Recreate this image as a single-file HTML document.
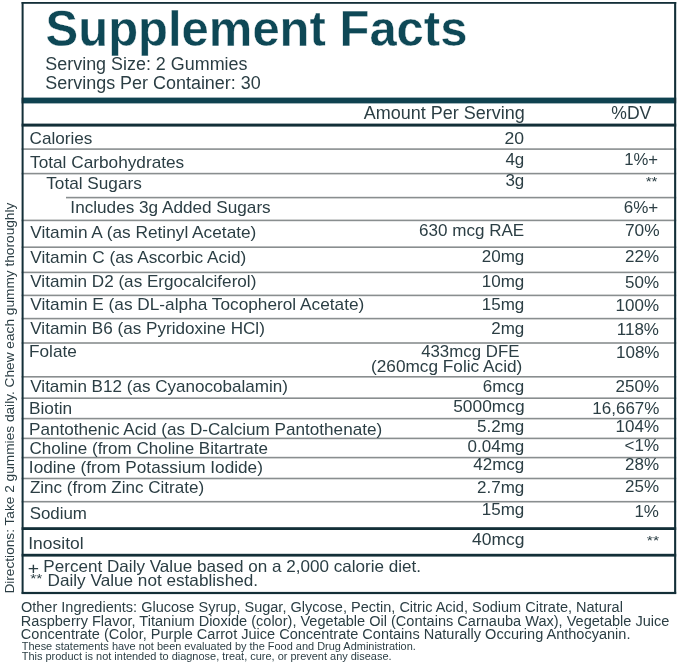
<!DOCTYPE html>
<html><head><meta charset="utf-8"><style>
html,body{margin:0;padding:0;background:#ffffff;}
svg{display:block;font-family:"Liberation Sans",sans-serif;will-change:transform;}
</style></head><body>
<svg width="679" height="667" viewBox="0 0 679 667">
<rect width="679" height="667" fill="#ffffff"/>
<rect x="21.6" y="97.6" width="654.6" height="5.8" fill="#0f4250"/>
<rect x="21.6" y="123.6" width="654.6" height="3" fill="#132f38"/>
<rect x="21.6" y="148.3" width="654.6" height="1.6" fill="#898e8f"/>
<rect x="21.6" y="172.8" width="654.6" height="1.6" fill="#898e8f"/>
<rect x="21.6" y="219.6" width="654.6" height="1.6" fill="#898e8f"/>
<rect x="21.6" y="246.4" width="654.6" height="1.6" fill="#898e8f"/>
<rect x="21.6" y="271.6" width="654.6" height="1.6" fill="#898e8f"/>
<rect x="21.6" y="294.6" width="654.6" height="1.6" fill="#898e8f"/>
<rect x="21.6" y="317.8" width="654.6" height="1.6" fill="#898e8f"/>
<rect x="21.6" y="342.2" width="654.6" height="1.6" fill="#898e8f"/>
<rect x="21.6" y="376" width="654.6" height="1.6" fill="#898e8f"/>
<rect x="21.6" y="397.4" width="654.6" height="1.6" fill="#898e8f"/>
<rect x="21.6" y="417.8" width="654.6" height="1.6" fill="#898e8f"/>
<rect x="21.6" y="437.6" width="654.6" height="1.6" fill="#898e8f"/>
<rect x="21.6" y="456.8" width="654.6" height="1.6" fill="#898e8f"/>
<rect x="21.6" y="477.7" width="654.6" height="1.6" fill="#898e8f"/>
<rect x="21.6" y="500.9" width="654.6" height="1.6" fill="#898e8f"/>
<rect x="66" y="196.8" width="610.2" height="1.6" fill="#898e8f"/>
<rect x="21.6" y="527.2" width="654.6" height="2.8" fill="#132f38"/>
<rect x="21.6" y="553.8" width="654.6" height="2.8" fill="#132f38"/>
<rect x="21.6" y="2" width="654.6" height="1.8" fill="#132f38"/>
<rect x="21.6" y="2" width="2" height="591.8" fill="#132f38"/>
<rect x="674.1" y="2" width="2.1" height="591.8" fill="#132f38"/>
<rect x="21.6" y="591.9" width="654.6" height="2.2" fill="#132f38"/>
<text x="45.55" y="45.6" font-size="50.5" font-weight="bold" stroke="#ffffff" stroke-width="0.4" fill="#0e4856" textLength="421.87" lengthAdjust="spacingAndGlyphs">Supplement Facts</text>
<text x="45.33" y="69.6" font-size="18" fill="#2b3e44" textLength="202.15" lengthAdjust="spacingAndGlyphs">Serving Size: 2 Gummies</text>
<text x="45.33" y="89.2" font-size="18" fill="#2b3e44" textLength="215.4" lengthAdjust="spacingAndGlyphs">Servings Per Container: 30</text>
<text x="363.8" y="118.5" font-size="17.5" fill="#2b3e44" textLength="161.03" lengthAdjust="spacingAndGlyphs">Amount Per Serving</text>
<text x="611.27" y="118.7" font-size="17.5" fill="#2b3e44" textLength="40.02" lengthAdjust="spacingAndGlyphs">%DV</text>
<text x="29.52" y="144.2" font-size="17" fill="#2b3e44" textLength="62.9" lengthAdjust="spacingAndGlyphs">Calories</text>
<text x="524.18" y="144.3" font-size="17" fill="#2b3e44" textLength="19.59" lengthAdjust="spacingAndGlyphs" text-anchor="end">20</text>
<text x="30.02" y="168.3" font-size="17" fill="#2b3e44" textLength="154.23" lengthAdjust="spacingAndGlyphs">Total Carbohydrates</text>
<text x="524.3" y="164.9" font-size="17" fill="#2b3e44" textLength="18.91" lengthAdjust="spacingAndGlyphs" text-anchor="end">4g</text>
<text x="658.03" y="165.3" font-size="17" fill="#2b3e44" textLength="33.86" lengthAdjust="spacingAndGlyphs" text-anchor="end">1%+</text>
<text x="46.22" y="189.1" font-size="17" fill="#2b3e44" textLength="95.61" lengthAdjust="spacingAndGlyphs">Total Sugars</text>
<text x="524.3" y="186" font-size="17" fill="#2b3e44" textLength="18.91" lengthAdjust="spacingAndGlyphs" text-anchor="end">3g</text>
<text x="70.39" y="212.7" font-size="17" fill="#2b3e44" textLength="200.33" lengthAdjust="spacingAndGlyphs">Includes 3g Added Sugars</text>
<text x="658.25" y="212.5" font-size="17" fill="#2b3e44" textLength="34.52" lengthAdjust="spacingAndGlyphs" text-anchor="end">6%+</text>
<text x="30.27" y="237.6" font-size="17" fill="#2b3e44" textLength="226.11" lengthAdjust="spacingAndGlyphs">Vitamin A (as Retinyl Acetate)</text>
<text x="524.26" y="236" font-size="17" fill="#2b3e44" textLength="105.24" lengthAdjust="spacingAndGlyphs" text-anchor="end">630 mcg RAE</text>
<text x="659.56" y="236.4" font-size="17" fill="#2b3e44" textLength="34.65" lengthAdjust="spacingAndGlyphs" text-anchor="end">70%</text>
<text x="30.27" y="263" font-size="17" fill="#2b3e44" textLength="216.03" lengthAdjust="spacingAndGlyphs">Vitamin C (as Ascorbic Acid)</text>
<text x="524.3" y="262.4" font-size="17" fill="#2b3e44" textLength="42.53" lengthAdjust="spacingAndGlyphs" text-anchor="end">20mg</text>
<text x="659" y="261.8" font-size="17" fill="#2b3e44" textLength="34.03" lengthAdjust="spacingAndGlyphs" text-anchor="end">22%</text>
<text x="30.27" y="287" font-size="17" fill="#2b3e44" textLength="226.09" lengthAdjust="spacingAndGlyphs">Vitamin D2 (as Ergocalciferol)</text>
<text x="524.3" y="287.1" font-size="17" fill="#2b3e44" textLength="42.53" lengthAdjust="spacingAndGlyphs" text-anchor="end">10mg</text>
<text x="659" y="288.1" font-size="17" fill="#2b3e44" textLength="34.03" lengthAdjust="spacingAndGlyphs" text-anchor="end">50%</text>
<text x="30.27" y="310" font-size="17" fill="#2b3e44" textLength="334" lengthAdjust="spacingAndGlyphs">Vitamin E (as DL-alpha Tocopherol Acetate)</text>
<text x="524.3" y="310.1" font-size="17" fill="#2b3e44" textLength="42.53" lengthAdjust="spacingAndGlyphs" text-anchor="end">15mg</text>
<text x="659" y="310.9" font-size="17" fill="#2b3e44" textLength="43.48" lengthAdjust="spacingAndGlyphs" text-anchor="end">100%</text>
<text x="30.27" y="334.2" font-size="17" fill="#2b3e44" textLength="234.59" lengthAdjust="spacingAndGlyphs">Vitamin B6 (as Pyridoxine HCl)</text>
<text x="524.3" y="334.3" font-size="17" fill="#2b3e44" textLength="33.07" lengthAdjust="spacingAndGlyphs" text-anchor="end">2mg</text>
<text x="659" y="334.9" font-size="17" fill="#2b3e44" textLength="42.22" lengthAdjust="spacingAndGlyphs" text-anchor="end">118%</text>
<text x="29.01" y="356.8" font-size="17" fill="#2b3e44" textLength="47.85" lengthAdjust="spacingAndGlyphs">Folate</text>
<text x="659.51" y="357.5" font-size="17" fill="#2b3e44" textLength="43.56" lengthAdjust="spacingAndGlyphs" text-anchor="end">108%</text>
<text x="30.27" y="392.3" font-size="17" fill="#2b3e44" textLength="257.72" lengthAdjust="spacingAndGlyphs">Vitamin B12 (as Cyanocobalamin)</text>
<text x="524.3" y="392" font-size="17" fill="#2b3e44" textLength="41.57" lengthAdjust="spacingAndGlyphs" text-anchor="end">6mcg</text>
<text x="659" y="391.9" font-size="17" fill="#2b3e44" textLength="43.48" lengthAdjust="spacingAndGlyphs" text-anchor="end">250%</text>
<text x="29" y="413.6" font-size="17" fill="#2b3e44" textLength="43.24" lengthAdjust="spacingAndGlyphs">Biotin</text>
<text x="524.58" y="412.3" font-size="17" fill="#2b3e44" textLength="71.35" lengthAdjust="spacingAndGlyphs" text-anchor="end">5000mcg</text>
<text x="659.51" y="413.5" font-size="17" fill="#2b3e44" textLength="67.27" lengthAdjust="spacingAndGlyphs" text-anchor="end">16,667%</text>
<text x="29.01" y="434.5" font-size="17" fill="#2b3e44" textLength="353.18" lengthAdjust="spacingAndGlyphs">Pantothenic Acid (as D-Calcium Pantothenate)</text>
<text x="524.3" y="431.8" font-size="17" fill="#2b3e44" textLength="47.25" lengthAdjust="spacingAndGlyphs" text-anchor="end">5.2mg</text>
<text x="659" y="432" font-size="17" fill="#2b3e44" textLength="43.48" lengthAdjust="spacingAndGlyphs" text-anchor="end">104%</text>
<text x="29.52" y="453.8" font-size="17" fill="#2b3e44" textLength="238.41" lengthAdjust="spacingAndGlyphs">Choline (from Choline Bitartrate</text>
<text x="524.3" y="451.6" font-size="17" fill="#2b3e44" textLength="56.71" lengthAdjust="spacingAndGlyphs" text-anchor="end">0.04mg</text>
<text x="659" y="450.5" font-size="17" fill="#2b3e44" textLength="34.5" lengthAdjust="spacingAndGlyphs" text-anchor="end">&lt;1%</text>
<text x="28.88" y="472.7" font-size="17" fill="#2b3e44" textLength="234.03" lengthAdjust="spacingAndGlyphs">Iodine (from Potassium Iodide)</text>
<text x="524.3" y="470" font-size="17" fill="#2b3e44" textLength="51.03" lengthAdjust="spacingAndGlyphs" text-anchor="end">42mcg</text>
<text x="659" y="470" font-size="17" fill="#2b3e44" textLength="34.03" lengthAdjust="spacingAndGlyphs" text-anchor="end">28%</text>
<text x="29.9" y="492.9" font-size="17" fill="#2b3e44" textLength="174.25" lengthAdjust="spacingAndGlyphs">Zinc (from Zinc Citrate)</text>
<text x="524.3" y="493" font-size="17" fill="#2b3e44" textLength="47.25" lengthAdjust="spacingAndGlyphs" text-anchor="end">2.7mg</text>
<text x="659" y="492.4" font-size="17" fill="#2b3e44" textLength="34.03" lengthAdjust="spacingAndGlyphs" text-anchor="end">25%</text>
<text x="29.65" y="518.6" font-size="17" fill="#2b3e44" textLength="57.28" lengthAdjust="spacingAndGlyphs">Sodium</text>
<text x="524.3" y="514.7" font-size="17" fill="#2b3e44" textLength="42.53" lengthAdjust="spacingAndGlyphs" text-anchor="end">15mg</text>
<text x="659" y="517.4" font-size="17" fill="#2b3e44" textLength="24.57" lengthAdjust="spacingAndGlyphs" text-anchor="end">1%</text>
<text x="28.26" y="548.7" font-size="17" fill="#2b3e44" textLength="55.39" lengthAdjust="spacingAndGlyphs">Inositol</text>
<text x="524.56" y="544.8" font-size="17" fill="#2b3e44" textLength="52.54" lengthAdjust="spacingAndGlyphs" text-anchor="end">40mcg</text>
<text x="657.58" y="186" font-size="13" fill="#2b3e44" textLength="11.88" lengthAdjust="spacingAndGlyphs" text-anchor="end">**</text>
<text x="659.09" y="544.6" font-size="13" fill="#2b3e44" textLength="12.3" lengthAdjust="spacingAndGlyphs" text-anchor="end">**</text>
<text x="519.4" y="356.8" font-size="17" fill="#2b3e44" textLength="98.27" lengthAdjust="spacingAndGlyphs" text-anchor="end">433mcg DFE</text>
<text x="522.35" y="371.5" font-size="17" fill="#2b3e44" textLength="151.36" lengthAdjust="spacingAndGlyphs" text-anchor="end">(260mcg Folic Acid)</text>
<text x="27.7" y="574" font-size="17" fill="#2b3e44" textLength="11.31" lengthAdjust="spacingAndGlyphs">+</text>
<text x="43.38" y="571.8" font-size="16.5" fill="#2b3e44" textLength="377.66" lengthAdjust="spacingAndGlyphs">Percent Daily Value based on a 2,000 calorie diet.</text>
<text x="30.21" y="583.2" font-size="13.3" fill="#2b3e44" textLength="12.16" lengthAdjust="spacingAndGlyphs">**</text>
<text x="47.57" y="585.5" font-size="16.5" fill="#2b3e44" textLength="210.51" lengthAdjust="spacingAndGlyphs">Daily Value not established.</text>
<text x="20.95" y="612" font-size="14" fill="#2b3e44" textLength="601.93" lengthAdjust="spacingAndGlyphs">Other Ingredients: Glucose Syrup, Sugar, Glycose, Pectin, Citric Acid, Sodium Citrate, Natural</text>
<text x="20.83" y="625.6" font-size="14" fill="#2b3e44" textLength="648.56" lengthAdjust="spacingAndGlyphs">Raspberry Flavor, Titanium Dioxide (color), Vegetable Oil (Contains Carnauba Wax), Vegetable Juice</text>
<text x="20.82" y="639.3" font-size="14" fill="#2b3e44" textLength="609.63" lengthAdjust="spacingAndGlyphs">Concentrate (Color, Purple Carrot Juice Concentrate Contains Naturally Occuring Anthocyanin.</text>
<text x="21.75" y="650.3" font-size="10.8" fill="#2b3e44" textLength="394.08" lengthAdjust="spacingAndGlyphs">These statements have not been evaluated by the Food and Drug Administration.</text>
<text x="21.75" y="660.1" font-size="10.8" fill="#2b3e44" textLength="369.84" lengthAdjust="spacingAndGlyphs">This product is not intended to diagnose, treat, cure, or prevent any disease.</text>
<text transform="translate(13.6,593.62) rotate(-90)" x="0" y="0" font-size="12.3" fill="#2b3e44" textLength="390.95" lengthAdjust="spacingAndGlyphs">Directions: Take 2 gummies daily. Chew each gummy thoroughly</text>
</svg>
</body></html>
